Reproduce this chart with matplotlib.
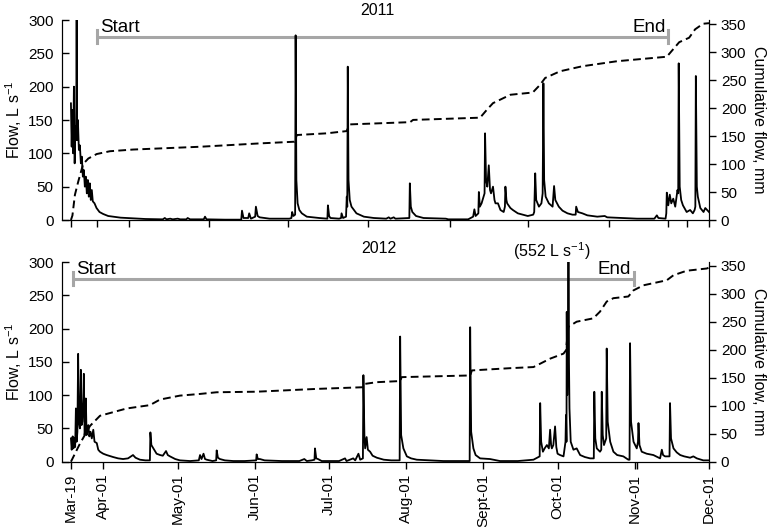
import numpy as np
import matplotlib.pyplot as plt
from datetime import date

plt.rcParams['font.family'] = ['Liberation Sans', 'DejaVu Sans']
plt.rcParams['mathtext.fontset'] = 'custom'
plt.rcParams['mathtext.rm'] = 'Liberation Sans'

# --- data (days after Mar-19) ---
# 2011 flow, L/s  (day, flow) pairs
flow11 = [(0.0, 175), (0.3, 110), (0.6, 165), (0.9, 100), (1.2, 200), (1.5, 85), (1.8, 140), (2.1, 120),
          (2.3, 300), (2.5, 120), (2.8, 150), (3.2, 105), (3.6, 112), (4.0, 85), (4.4, 95), (4.8, 65),
          (5.2, 75), (5.6, 50), (6.0, 65), (6.4, 40), (6.8, 60), (7.2, 35), (7.6, 55), (8.0, 30),
          (8.4, 45), (8.8, 28), (9.5, 25), (10.3, 18), (11.5, 12), (13, 9), (15, 6), (17, 5), (20, 3.5),
          (25, 2.5), (30, 1.5), (37, 1), (37.8, 3), (38.5, 1), (40, 2), (41, 1), (43, 2), (44, 1),
          (46.5, 1), (47, 3), (48, 1), (53.5, 1), (54, 5), (54.6, 1), (62, 0.5), (68.6, 0.5), (68.9, 14),
          (69.5, 3), (71.4, 3), (71.8, 10), (72.5, 2), (74.2, 5), (74.5, 20), (75.2, 6), (76, 4), (80, 2),
          (84, 2), (88, 2), (88.8, 3), (89.1, 12), (89.6, 6), (90.3, 8), (90.5, 277), (90.8, 60),
          (91.3, 25), (92, 15), (93, 10), (95, 5), (100, 3), (103.3, 2), (103.5, 22), (104, 6),
          (104.5, 3), (108, 2), (108.8, 3), (109, 10), (109.6, 3), (110.8, 5), (111.1, 35), (111.3, 20),
          (111.5, 230), (111.8, 60), (112.3, 30), (113, 20), (115, 10), (118, 5), (122, 3), (127, 2),
          (128, 4), (128.7, 2), (130, 4), (130.7, 2), (136.3, 3), (136.5, 55), (136.9, 20), (137.5, 12),
          (139, 6), (142, 3), (151, 2), (152, 1), (160, 1), (162, 5), (162.5, 16), (163, 6), (164.1, 10),
          (164.3, 42), (164.7, 20), (165.4, 25), (165.8, 30), (166.6, 40), (166.8, 130), (167.2, 60),
          (167.7, 50), (168.3, 82), (168.8, 45), (169.2, 40), (170, 50), (170.6, 30), (171, 25),
          (172, 25), (173, 15), (174.3, 12), (174.8, 20), (175, 50), (175.4, 30), (175.7, 25), (177, 18),
          (178, 15), (180, 10), (182, 8), (184, 6), (186.2, 8), (186.6, 12), (187, 70), (187.4, 30),
          (188.5, 20), (189.5, 25), (190.0, 40), (190.3, 205), (190.6, 60), (191.2, 35), (192.5, 25),
          (194, 20), (194.6, 51), (195.1, 30), (196.5, 20), (198, 14), (200, 10), (202, 8), (203.3, 8),
          (203.5, 20), (204.2, 12), (206, 10), (208, 7), (212, 5), (215, 6), (216, 4), (222, 3), (228, 2),
          (235, 2), (236, 7), (236.6, 3), (239.5, 2), (239.8, 10), (240, 41), (240.6, 22), (241.2, 38),
          (241.8, 25), (242.6, 32), (243.4, 20), (244.3, 45), (244.6, 40), (244.8, 235), (245.2, 50),
          (245.8, 30), (246.5, 22), (248, 12), (249.4, 15), (250.5, 10), (251.2, 15), (251.5, 20),
          (251.7, 216), (252.1, 50), (252.5, 35), (253.5, 18), (254.8, 12), (255.5, 18), (257, 12)]

# 2011 cumulative flow, mm
cum11_day = [0, 0.6, 1.6, 2.9, 4.9, 7, 10.4, 15.7, 25, 52, 76, 90, 91, 103, 111, 112.4, 136.6,
             137.8, 164.8, 167.5, 170, 177, 186, 189, 191, 197, 206, 220, 240, 242.5, 245, 249,
             251.4, 254.6, 257]
cum11_mm = [0, 8, 45, 68, 100, 110, 118, 123, 126, 131, 137, 140, 152, 155, 159, 171, 175,
            179, 183, 197, 209, 224, 228, 242, 254, 266, 275, 284, 292, 305, 318, 326,
            341, 351, 352]

# 2012 flow, L/s
flow12 = [(0, 35), (0.3, 18), (0.7, 38), (1.0, 20), (1.3, 36), (1.7, 22), (2.0, 80), (2.3, 30), (2.6, 45),
          (2.9, 162), (3.2, 60), (3.6, 50), (4.0, 138), (4.3, 55), (4.6, 60), (5.0, 95), (5.2, 132),
          (5.5, 40), (5.8, 50), (6.0, 95), (6.3, 40), (6.6, 50), (7.0, 55), (7.4, 38), (7.9, 45),
          (8.4, 35), (9.0, 48), (9.5, 30), (10.4, 28), (11.0, 18), (11.7, 15), (13, 12), (14.4, 10),
          (17, 7), (19, 5), (21, 4), (23, 5), (25, 10), (26, 6), (27.8, 3), (30, 2), (31.8, 2), (32.0, 44),
          (32.4, 25), (33.2, 20), (34.5, 12), (35.9, 10), (37, 9), (38.3, 16), (39, 10), (39.9, 8),
          (42, 4), (43.9, 2), (48, 1), (51.5, 2), (52, 10), (52.6, 4), (53.4, 12), (54, 4), (54.7, 3),
          (57, 1), (58.5, 2), (58.7, 17), (59.2, 6), (60, 4), (62, 2), (65.4, 1), (70, 1), (74.6, 2),
          (74.8, 11), (75.3, 4), (76.1, 4), (78, 2), (85, 1), (92, 1), (94, 4), (95, 1), (97, 2),
          (98.1, 3), (98.3, 20), (98.8, 5), (99.5, 4), (101, 1), (108, 1), (110.4, 5), (111, 1),
          (113.7, 5), (114.5, 2), (115.8, 12), (116.5, 3), (117.6, 5), (117.8, 130), (118.2, 40),
          (118.5, 20), (119.1, 37), (119.6, 18), (120.5, 15), (121.5, 9), (123.2, 6), (126, 3), (129, 2),
          (132.4, 2), (132.6, 188), (133, 40), (133.9, 20), (135.3, 8), (137, 5), (139.3, 3), (145, 2),
          (150, 1), (160.6, 1), (160.8, 202), (161.2, 45), (162.1, 20), (163, 10), (164.8, 5), (168.8, 4),
          (172.8, 1), (180, 1), (186.3, 3), (188.8, 8), (189, 88), (189.4, 30), (190.1, 15), (190.8, 20),
          (191.7, 25), (192.5, 20), (193, 48), (193.4, 25), (193.7, 20), (194.3, 25), (195, 53),
          (195.5, 22), (196, 12), (197, 10), (198.4, 8), (199.2, 30), (199.4, 70), (199.6, 30),
          (199.7, 225), (199.9, 100), (200.2, 200), (200.4, 552), (200.6, 150), (200.8, 80), (201.3, 30),
          (202.4, 18), (203.7, 20), (205.1, 10), (207, 7), (209.1, 5), (210.6, 5), (210.8, 105),
          (211.2, 35), (211.8, 20), (213.1, 15), (213.6, 18), (213.8, 105), (214.2, 40), (214.7, 25),
          (215.6, 35), (215.8, 170), (216.2, 60), (217.2, 30), (218.5, 15), (220, 10), (222.5, 8),
          (224.5, 3), (225.0, 3), (225.2, 178), (225.6, 60), (226.6, 30), (227.9, 20), (228.4, 30),
          (228.6, 58), (229.0, 25), (229.9, 15), (231.9, 12), (234.6, 10), (237.3, 5), (238, 18),
          (238.5, 10), (239.3, 8), (241.1, 8), (241.3, 88), (241.7, 35), (242.7, 20), (244, 14),
          (245.4, 10), (247, 8), (249.4, 6), (250.7, 8), (252.1, 5), (254.7, 2), (257, 2)]

# 2012 cumulative flow, mm
cum12_day = [0, 3.6, 7.7, 11.7, 22.4, 31.8, 35.9, 43.9, 52, 58.7, 74.8, 99, 117.8, 118.5, 123.2,
             132.6, 133.2, 160.8, 161.5, 176.9, 186.3, 189, 193, 198.4, 199.4, 200.4, 203.7,
             210.4, 213.1, 215.8, 218.5, 224.5, 226.6, 230.6, 240, 242.7, 248, 256.1, 257.2]
cum12_mm = [0, 32, 64, 82, 95, 101, 111, 118, 121, 124, 125, 130, 133, 139, 142,
            144, 151, 154, 163, 167, 169, 175, 184, 193, 199, 241, 250,
            256, 268, 286, 292, 295, 306, 315, 324, 333, 341, 345, 347]

# start / end of monitoring (days after Mar-19)
start11, end11 = 10.4, 240.5
start12, end12 = 0.7, 226.6

base = date(2012, 3, 19)
tick_dates = [date(2012, 3, 19), date(2012, 4, 1), date(2012, 5, 1), date(2012, 6, 1),
              date(2012, 7, 1), date(2012, 8, 1), date(2012, 9, 1), date(2012, 10, 1),
              date(2012, 11, 1), date(2012, 12, 1)]
tick_labels = ['Mar-19', 'Apr-01', 'May-01', 'Jun-01', 'Jul-01', 'Aug-01', 'Sept-01',
               'Oct-01', 'Nov-01', 'Dec-01']
tick_days = [(d - base).days for d in tick_dates]
top_ticks = [0, 10.4, 23.4, 55.6, 87.4, 119.7, 152.7, 184, 216.8, 240.5, 248, 257]

GREY = '#a6a6a6'
FS = 11

fig = plt.figure(figsize=(7.73, 5.27), dpi=100)
W, H = 773, 527
L, R = 62, 709
ax1 = fig.add_axes([L / W, 1 - 220 / H, (R - L) / W, 200 / H])
ax2 = fig.add_axes([L / W, 1 - 461.7 / H, (R - L) / W, 199.7 / H])


def panel(ax, flow, cday, cmm, s, e, ctop):
    fd, fq = zip(*flow)
    ax.plot(fd, fq, color='black', lw=1.3, zorder=3)
    ax.set_xlim(-3.6, 257)
    ax.set_ylim(0, 300)
    ax.set_yticks(range(0, 301, 50))
    ax.spines['top'].set_visible(False)
    ax.tick_params(axis='x', direction='out', length=5, width=1, labelsize=FS)
    ax.tick_params(axis='y', direction='in', length=5, width=1, labelsize=FS, pad=6)
    ax.set_ylabel(r'Flow, L s$^{\mathregular{-1}}$', fontsize=FS + 0.5, labelpad=3)
    # start / end bar
    ax.plot([s, e], [275, 275], color=GREY, lw=2.2, solid_capstyle='butt', clip_on=False)
    ax.plot([s, s], [265, 285], color=GREY, lw=2.2, clip_on=False)
    ax.plot([e, e], [265, 285], color=GREY, lw=2.2, clip_on=False)
    ax.text(s + 1.5, 282, 'Start', fontsize=13.5, ha='left', va='baseline')
    ax.text(e - 1.0, 282, 'End', fontsize=13.5, ha='right', va='baseline')
    tw = ax.twinx()
    tw.plot(cday, cmm, color='black', lw=1.4, ls=(0, (4, 2.2)))
    tw.set_ylim(0, ctop)
    tw.set_yticks(range(0, 351, 50))
    tw.spines['top'].set_visible(False)
    tw.tick_params(direction='out', length=5, width=1, labelsize=FS)
    tw.set_ylabel('Cumulative flow, mm', fontsize=FS + 0.5, rotation=270, labelpad=14)
    return tw


panel(ax1, flow11, cum11_day, cum11_mm, start11, end11, 357.7)
panel(ax2, flow12, cum12_day, cum12_mm, start12, end12, 356.6)

ax1.set_xticks(top_ticks)
ax1.set_xticklabels([])
ax2.set_xticks(tick_days + [228])
ax2.set_xticklabels(tick_labels + [''], rotation=90, fontsize=FS)

ax1.text(0.488, 1.048, '2011', transform=ax1.transAxes, ha='center', va='center', fontsize=FS + 0.5)
ax2.text(0.490, 1.07, '2012', transform=ax2.transAxes, ha='center', va='center', fontsize=FS + 0.5)
ax2.text(193.8, 317, r'(552 L s$^{\mathregular{-1}}$)', ha='center', va='center', fontsize=FS + 0.5)

fig.savefig('out.png', dpi=100)
